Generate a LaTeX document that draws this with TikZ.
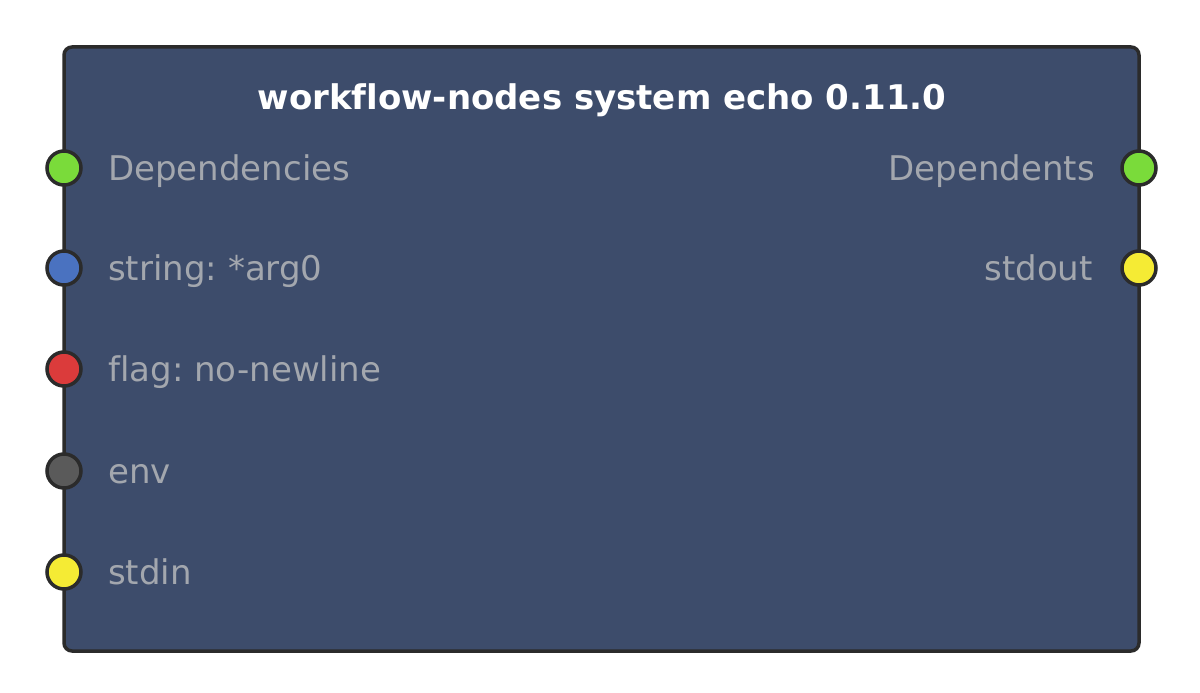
\documentclass[tikz,border=0pt]{standalone}
\usepackage{fontspec}
\setmainfont[Ligatures={NoCommon}]{DejaVu Sans}
\definecolor{boxfill}{HTML}{3D4C6B}
\definecolor{boxline}{HTML}{2B2B2B}
\definecolor{lbl}{HTML}{A3A7AE}
\definecolor{pgreen}{HTML}{7ADB3A}
\definecolor{pblue}{HTML}{4A72C0}
\definecolor{pred}{HTML}{DB3B3B}
\definecolor{pgray}{HTML}{5A5A5A}
\definecolor{pyellow}{HTML}{F5EB34}
\tikzset{
  port/.style={circle, draw=boxline, line width=3.5pt, minimum size=34pt, inner sep=0pt},
  inlbl/.style={anchor=base west, text=lbl, inner sep=0pt, font=\fontsize{34}{40}\selectfont},
  outlbl/.style={anchor=base east, text=lbl, inner sep=0pt, font=\fontsize{34}{40}\selectfont},
  titlelbl/.style={anchor=base, text=white, inner sep=0pt, font=\fontsize{34}{40}\selectfont\bfseries},
}
\frenchspacing
\begin{document}
\begin{tikzpicture}[x=1pt,y=-1pt]
\useasboundingbox (0,0) rectangle (1200,693);
\fill[white] (0,0) rectangle (1200,693);
\node[draw=boxline, fill=boxfill, line width=3.5pt, rounded corners=8pt, minimum width=1075pt, minimum height=604pt, inner sep=0pt] (box) at (601.5,349) {};
\node[titlelbl] (title) at (602,110) {workflow-nodes system echo 0.11.0};
\node[port, fill=pgreen] (pdep) at (64,168) {};
\node[port, fill=pblue] (pstr) at (64,268) {};
\node[port, fill=pred] (pflag) at (64,369) {};
\node[port, fill=pgray] (penv) at (64,471) {};
\node[port, fill=pyellow] (pin) at (64,572) {};
\node[port, fill=pgreen] (pdeps) at (1139,168) {};
\node[port, fill=pyellow] (pout) at (1139,268) {};
\node[inlbl] (ldep) at (108,180) {Dependencies};
\node[inlbl] (lstr) at (108,280) {string: *arg0};
\node[inlbl] (lflag) at (108,381) {flag: no-newline};
\node[inlbl] (lenv) at (108,483) {env};
\node[inlbl] (lin) at (108,584) {stdin};
\node[outlbl] (ldeps) at (1095,180) {Dependents};
\node[outlbl] (lout) at (1093,280) {stdout};
\end{tikzpicture}
\end{document}
